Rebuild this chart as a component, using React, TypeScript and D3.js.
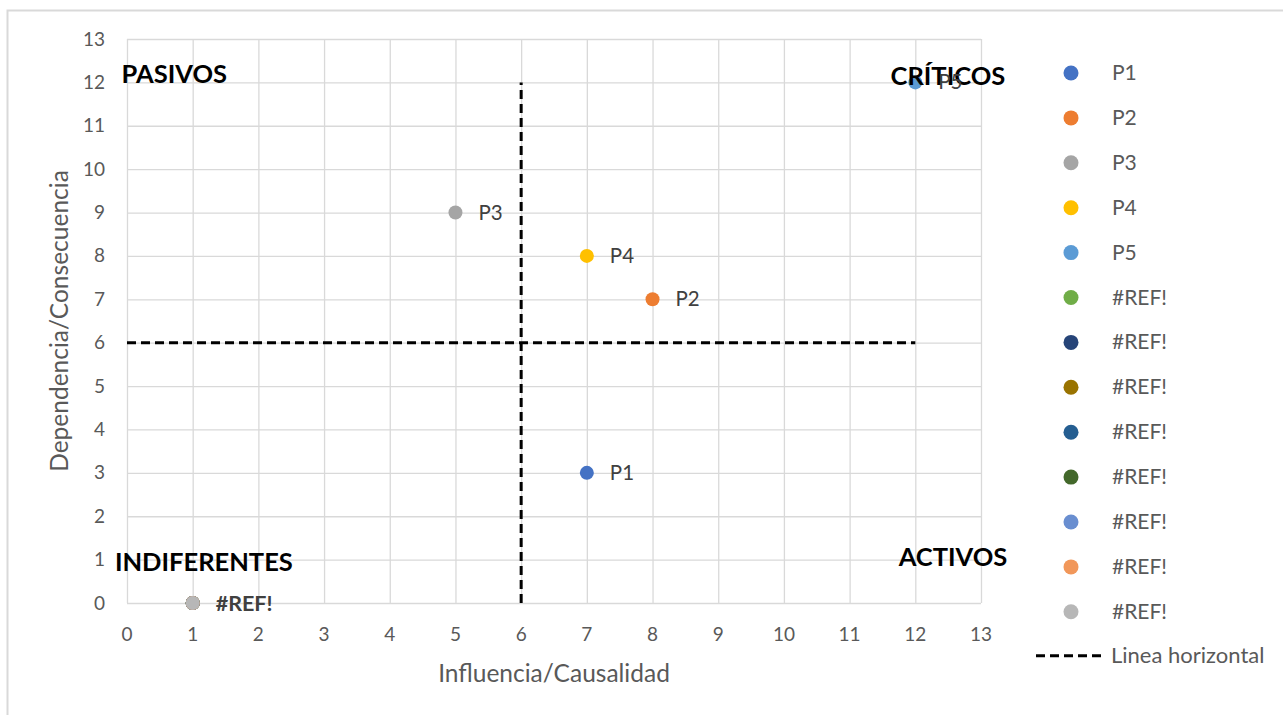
import React, { useEffect, useRef } from 'react';
import * as d3 from 'd3';

// series: points P1..P5 plus the broken #REF! series
const seriesNames = ['P1', 'P2', 'P3', 'P4', 'P5', '#REF!', '#REF!', '#REF!', '#REF!', '#REF!', '#REF!', '#REF!', '#REF!'];
const seriesColors = ['#4472C4', '#ED7D31', '#A5A5A5', '#FFC000', '#5B9BD5', '#70AD47', '#264478', '#997300', '#255E91', '#43682B', '#698ED0', '#F1975A', '#B7B7B7'];
const influencia = [7, 8, 5, 7, 12, 1, 1, 1, 1, 1, 1, 1, 1];
const dependencia = [3, 7, 9, 8, 12, 0, 0, 0, 0, 0, 0, 0, 0];

// dashed reference lines
const horizX = [0, 12];
const horizY = [6, 6];
const vertX = [6, 6];
const vertY = [0, 12];

// quadrant labels
const quadNames = ['PASIVOS', 'CRÍTICOS', 'INDIFERENTES', 'ACTIVOS'];
const quadX = [0.72, 13.37, 1.17, 13.4];
const quadY = [11.99, 11.94, 0.74, 0.85];
const quadAnchor = ['middle', 'end', 'middle', 'end'];

const ticks = d3.range(0, 14);

const width = 1283;
const height = 715;

const App: React.FC = () => {
    const svgRef = useRef(null);

    useEffect(() => {
        const svg = d3.select(svgRef.current);
        svg.selectAll('*').remove();

        const left = 127, right = 981, top = 39, bottom = 603;
        const font = 'Lato, "Noto Sans", sans-serif';

        const x = d3.scaleLinear().domain([0, 13]).range([left, right]);
        const y = d3.scaleLinear().domain([0, 13]).range([bottom, top]);

        // chart border (only top & left are in frame)
        svg.append('rect')
            .attr('x', 7.5).attr('y', 10.5)
            .attr('width', 1300).attr('height', 720)
            .attr('fill', 'white').attr('stroke', '#d9d9d9').attr('stroke-width', 2);

        // grid
        const grid = svg.append('g');
        grid.selectAll('line.v').data(ticks).enter().append('line')
            .attr('x1', d => x(d) + 0.5).attr('x2', d => x(d) + 0.5)
            .attr('y1', top).attr('y2', bottom)
            .attr('stroke', '#d9d9d9').attr('stroke-width', 1.3);
        grid.selectAll('line.h').data(ticks).enter().append('line')
            .attr('y1', d => y(d) + 0.5).attr('y2', d => y(d) + 0.5)
            .attr('x1', left).attr('x2', right)
            .attr('stroke', '#d9d9d9').attr('stroke-width', 1.3);

        // tick labels
        svg.append('g').selectAll('text').data(ticks).enter().append('text')
            .attr('x', d => x(d)).attr('y', bottom + 38)
            .attr('text-anchor', 'middle')
            .attr('font-family', font).attr('font-size', 19).attr('fill', '#595959')
            .text(d => d);
        svg.append('g').selectAll('text').data(ticks).enter().append('text')
            .attr('x', left - 22).attr('y', d => y(d) + 6.5)
            .attr('text-anchor', 'end')
            .attr('font-family', font).attr('font-size', 19).attr('fill', '#595959')
            .text(d => d);

        // axis titles
        svg.append('text')
            .attr('x', 554).attr('y', 682)
            .attr('text-anchor', 'middle')
            .attr('font-family', font).attr('font-size', 24.5).attr('fill', '#595959')
            .text('Influencia/Causalidad');
        svg.append('text')
            .attr('transform', `translate(68,321) rotate(-90)`)
            .attr('text-anchor', 'middle')
            .attr('font-family', font).attr('font-size', 24.5).attr('fill', '#595959')
            .text('Dependencia/Consecuencia');

        // dashed lines
        const line = d3.line<number>().x(d => x(d)).y((d, i) => y(horizY[i]));
        svg.append('path')
            .attr('d', line(horizX))
            .attr('fill', 'none').attr('stroke', 'black')
            .attr('stroke-width', 3).attr('stroke-dasharray', '9,5');
        const vline = d3.line<number>().x(d => x(d)).y((d, i) => y(vertY[i]));
        svg.append('path')
            .attr('d', vline(vertX))
            .attr('fill', 'none').attr('stroke', 'black')
            .attr('stroke-width', 3).attr('stroke-dasharray', '9,5');

        // points
        const idx = d3.range(seriesNames.length);
        svg.append('g').selectAll('circle').data(idx).enter().append('circle')
            .attr('cx', i => x(influencia[i])).attr('cy', i => y(dependencia[i]))
            .attr('r', 7)
            .attr('fill', i => seriesColors[i]);

        // quadrant labels
        svg.append('g').selectAll('text').data(quadNames).enter().append('text')
            .attr('x', (d, i) => x(quadX[i])).attr('y', (d, i) => y(quadY[i]))
            .attr('text-anchor', (d, i) => quadAnchor[i])
            .attr('font-family', font).attr('font-size', 25.5).attr('font-weight', 'bold').attr('fill', 'black')
            .text(d => d);

        // data labels (drawn over the quadrant labels, like the original)
        svg.append('g').selectAll('text').data(idx.slice(0, 5)).enter().append('text')
            .attr('x', i => x(influencia[i]) + 23).attr('y', i => y(dependencia[i]) + 7)
            .attr('font-family', font).attr('font-size', 20.5).attr('fill', '#404040')
            .text(i => seriesNames[i]);
        const lastRef = seriesNames.length - 1;
        svg.append('text')
            .attr('x', x(influencia[lastRef]) + 23).attr('y', y(dependencia[lastRef]) + 8)
            .attr('font-family', font).attr('font-size', 21.5).attr('font-weight', 'bold').attr('fill', '#404040')
            .text(seriesNames[lastRef]);

        // legend
        const legY = d3.scaleLinear().domain([0, 1]).range([73, 117.9]);
        const leg = svg.append('g');
        leg.selectAll('circle').data(idx).enter().append('circle')
            .attr('cx', 1071).attr('cy', i => legY(i))
            .attr('r', 7.5).attr('fill', i => seriesColors[i]);
        leg.selectAll('text').data(idx).enter().append('text')
            .attr('x', 1112).attr('y', i => legY(i) + 7)
            .attr('font-family', font).attr('font-size', 21).attr('fill', '#595959')
            .text(i => seriesNames[i]);
        const lastY = legY(seriesNames.length) - 1;
        leg.append('line')
            .attr('x1', 1036).attr('x2', 1106).attr('y1', lastY).attr('y2', lastY)
            .attr('stroke', 'black').attr('stroke-width', 3).attr('stroke-dasharray', '9,5');
        leg.append('text')
            .attr('x', 1111).attr('y', lastY + 7)
            .attr('font-family', font).attr('font-size', 22).attr('fill', '#595959')
            .text('Linea horizontal');
    }, []);

    return (
        <div style={{ position: 'absolute', left: 0, top: 0 }}>
            <svg ref={svgRef} width={width} height={height} style={{ backgroundColor: 'white', display: 'block' }}></svg>
        </div>
    );
};

export default App;
